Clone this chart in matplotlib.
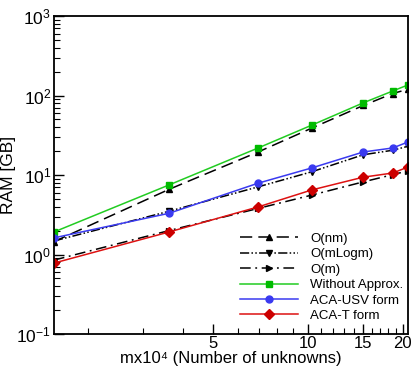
import matplotlib
matplotlib.use("Agg")
import matplotlib.pyplot as plt
from matplotlib.ticker import FixedLocator, NullFormatter, FixedFormatter, LogLocator

plt.rcParams['font.family'] = ['Liberation Sans', 'DejaVu Sans']
plt.rcParams['mathtext.fontset'] = 'custom'
plt.rcParams['mathtext.rm'] = 'Liberation Sans'
plt.rcParams['mathtext.it'] = 'Liberation Sans:italic'

m = [1.56, 3.62, 6.95, 10.3, 15.0, 18.6, 20.8]
o_nm = [1.45, 6.6, 19.5, 39.0, 75.0, 106.0, 120.0]
o_mlogm = [1.48, 3.5, 7.1, 11.0, 18.0, 20.5, 23.0]
o_m = [0.85, 2.0, 3.8, 5.6, 8.2, 10.1, 11.3]
without = [1.92, 7.5, 21.9, 42.5, 81.0, 114.0, 136.0]
aca_usv = [1.62, 3.3, 7.9, 12.3, 19.5, 21.9, 26.0]
aca_t = [0.78, 1.92, 3.97, 6.5, 9.4, 10.6, 12.6]

x_major = [5, 10, 15, 20]
x_minor = [2, 3, 4, 6, 7, 8, 9, 11, 12, 13, 14, 16, 17, 18, 19]

fig = plt.figure(figsize=(4.15, 3.74), dpi=100)
ax = fig.add_axes([0.130, 0.107, 0.853, 0.850])

ax.plot(m, o_nm, color='black', lw=1.1, ls=(0, (8, 4)), marker='^', ms=5, label='O(nm)')
ax.plot(m, o_mlogm, color='black', lw=1.1, ls=(0, (6, 1.5, 1, 1.5, 1, 1.5)), marker='v', ms=5, label='O(mLogm)')
ax.plot(m, o_m, color='black', lw=1.1, ls=(0, (7, 3, 1.2, 3)), marker='>', ms=5, label='O(m)')
ax.plot(m, without, color='#22cc22', lw=1.1, marker='s', ms=5, mfc='#00bb00', mec='#00bb00', label='Without Approx.')
ax.plot(m, aca_usv, color='#3a3af0', lw=1.1, marker='o', ms=5, label='ACA-USV form')
ax.plot(m, aca_t, color='#dd1111', lw=1.1, marker='D', ms=5, mfc='#cc0000', mec='#cc0000', label='ACA-T form')

ax.set_xscale('log')
ax.set_yscale('log')
ax.set_xlim(1.56, 20.8)
ax.set_ylim(0.1, 1000)

ax.xaxis.set_major_locator(FixedLocator(x_major))
ax.xaxis.set_major_formatter(FixedFormatter([str(v) for v in x_major]))
ax.xaxis.set_minor_locator(FixedLocator(x_minor))
ax.xaxis.set_minor_formatter(NullFormatter())
ax.yaxis.set_major_locator(LogLocator(base=10, numticks=10))
ax.yaxis.set_minor_locator(LogLocator(base=10, subs=range(2, 10), numticks=20))
ax.yaxis.set_minor_formatter(NullFormatter())

ax.tick_params(which='both', direction='in', labelsize=12.5, top=False, right=False, pad=2)
ax.tick_params(axis='x', which='both', labelsize=12, pad=1.5)
ax.tick_params(which='major', length=7, width=1)
ax.tick_params(which='minor', length=4, width=0.8)
for s in ax.spines.values():
    s.set_linewidth(1.3)

ax.set_xlabel('mx10\u2074 (Number of unknowns)', fontsize=12, labelpad=0)
ax.set_ylabel('RAM [GB]', fontsize=12.5, labelpad=0)

ax.legend(loc='lower right', frameon=False, fontsize=9.5, handlelength=4.4, numpoints=1,
          handletextpad=0.9, labelspacing=0.24, bbox_to_anchor=(1.02, 0.0), borderaxespad=0.5)

fig.savefig('out.png', dpi=100)
